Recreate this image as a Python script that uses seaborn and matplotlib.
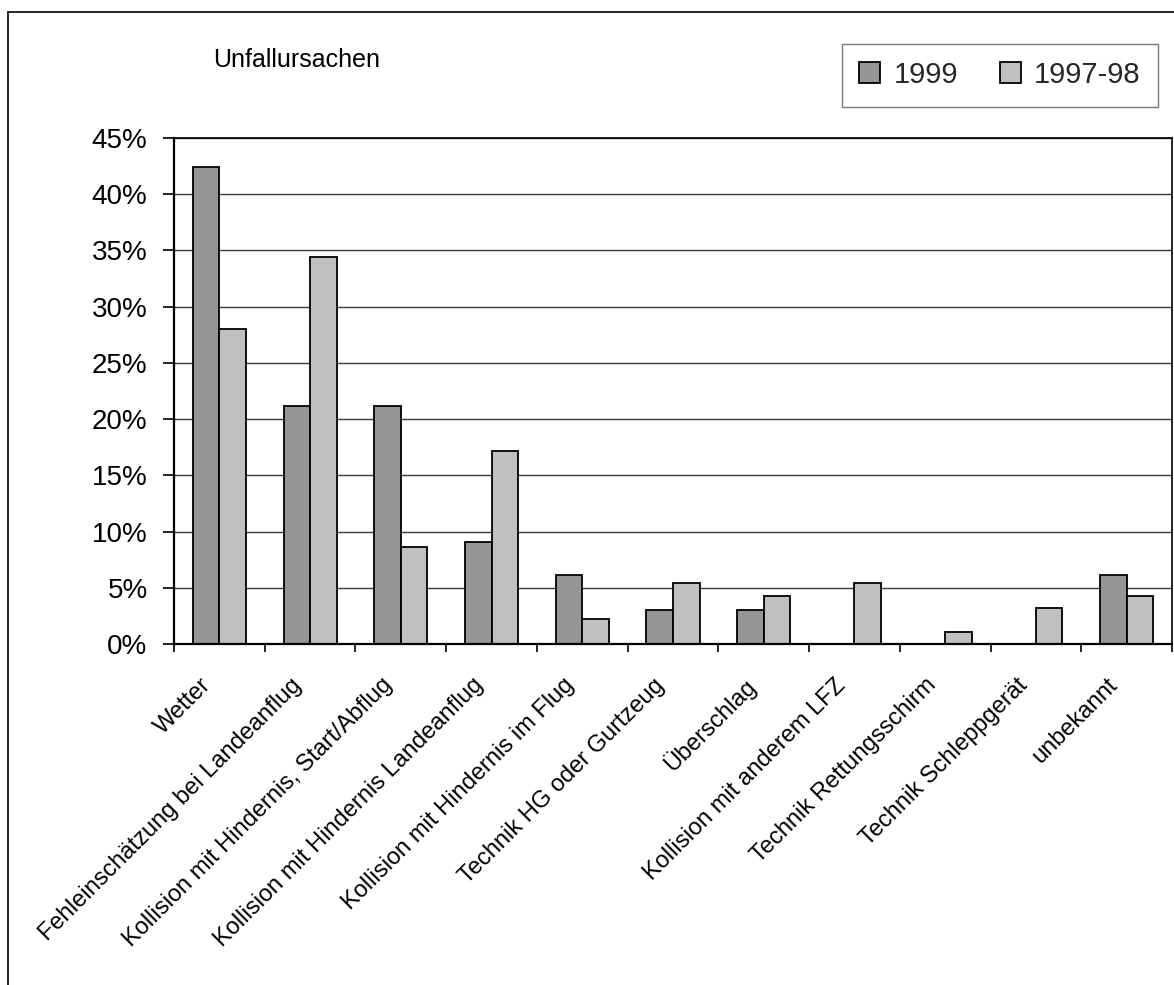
import matplotlib
matplotlib.use("Agg")
import matplotlib.pyplot as plt
import matplotlib.transforms as mtransforms
from matplotlib.lines import Line2D
import pandas as pd
import seaborn as sns

# Unfallursachen, Anteil in Prozent
ursachen = [
    "Wetter",
    "Fehleinschätzung bei Landeanflug",
    "Kollision mit Hindernis, Start/Abflug",
    "Kollision mit Hindernis Landeanflug",
    "Kollision mit Hindernis im Flug",
    "Technik HG oder Gurtzeug",
    "Überschlag",
    "Kollision mit anderem LFZ",
    "Technik Rettungsschirm",
    "Technik Schleppgerät",
    "unbekannt",
]
werte_1999 = [42.4, 21.2, 21.2, 9.1, 6.1, 3.0, 3.0, 0.0, 0.0, 0.0, 6.1]
werte_1997_98 = [28.0, 34.4, 8.6, 17.2, 2.2, 5.4, 4.3, 5.4, 1.1, 3.2, 4.3]
jahre = ["1999", "1997-98"]
y_ticks = [0, 5, 10, 15, 20, 25, 30, 35, 40, 45]

df = pd.DataFrame({
    "Ursache": ursachen * 2,
    "Jahr": [jahre[0]] * len(ursachen) + [jahre[1]] * len(ursachen),
    "Anteil": werte_1999 + werte_1997_98,
})

sns.set_theme(style="white")
plt.rcParams["font.family"] = ["Liberation Sans", "DejaVu Sans"]

W, H, DPI = 1174, 985, 100
AX_L, AX_R, AX_T, AX_B = 174, 1172, 138, 644
fig = plt.figure(figsize=(W / DPI, H / DPI), dpi=DPI)
ax = fig.add_axes([AX_L / W, 1 - AX_B / H, (AX_R - AX_L) / W, (AX_B - AX_T) / H])

sns.barplot(
    data=df, x="Ursache", y="Anteil", hue="Jahr", order=ursachen,
    hue_order=jahre, palette={"1999": "#969696", "1997-98": "#C0C0C0"},
    width=0.586, edgecolor="black", linewidth=1.3, saturation=1,
    ax=ax, legend=True,
)

ax.set_xlim(-0.5, len(ursachen) - 0.5)
ax.set_ylim(0, 45)
ax.set_yticks(y_ticks)
ax.set_yticklabels([f"{v}%" for v in y_ticks], fontsize=20, color="black")
ax.yaxis.grid(True, color="#3a3a3a", linewidth=1.0)
ax.set_axisbelow(True)
ax.set_xlabel("")
ax.set_ylabel("")

ax.tick_params(axis="y", direction="out", length=8, width=1.2, pad=11,
               left=True, colors="black")
# category boundaries carry the tick marks
ax.set_xticks([i - 0.5 for i in range(len(ursachen) + 1)])
ax.set_xticklabels([])
ax.tick_params(axis="x", direction="out", length=6, width=1.2, bottom=True,
               colors="black")

for side in ["left", "bottom"]:
    ax.spines[side].set_color("black")
    ax.spines[side].set_linewidth(1.6)
for side in ["top", "right"]:
    ax.spines[side].set_visible(True)
    ax.spines[side].set_color("black")
    ax.spines[side].set_linewidth(1.2)

# rotated category labels
offset = mtransforms.ScaledTranslation(-12 / DPI, 0, fig.dpi_scale_trans)
trans = ax.get_xaxis_transform() + offset
for i, name in enumerate(ursachen):
    ax.text(i, -38 / (AX_B - AX_T), name, transform=trans, rotation=45,
            rotation_mode="anchor", ha="right", va="center", fontsize=17,
            color="black")

# legend
sns.move_legend(
    ax, loc="center", bbox_to_anchor=(1000 / W, 1 - 75 / H),
    bbox_transform=fig.transFigure, ncol=2, title=None, frameon=True,
    fontsize=21, handlelength=0.72, handleheight=0.72, handletextpad=0.45,
    columnspacing=1.45, borderpad=0.6, fancybox=False,
)
leg = ax.get_legend()
leg.get_frame().set_edgecolor("#555555")
leg.get_frame().set_linewidth(1.0)
for h in leg.legend_handles:
    h.set_edgecolor("black")
    h.set_linewidth(1.3)

fig.text(213 / W, 1 - 60 / H, "Unfallursachen", fontsize=18, ha="left",
         va="center", color="black")

# chart frame
fig.add_artist(Line2D([8 / W, 1.0], [1 - 12 / H, 1 - 12 / H],
                      transform=fig.transFigure, color="black", linewidth=1.2))
fig.add_artist(Line2D([8 / W, 8 / W], [1 - 12 / H, 0.0],
                      transform=fig.transFigure, color="black", linewidth=1.2))

fig.savefig("out.png", dpi=DPI, facecolor="white")
